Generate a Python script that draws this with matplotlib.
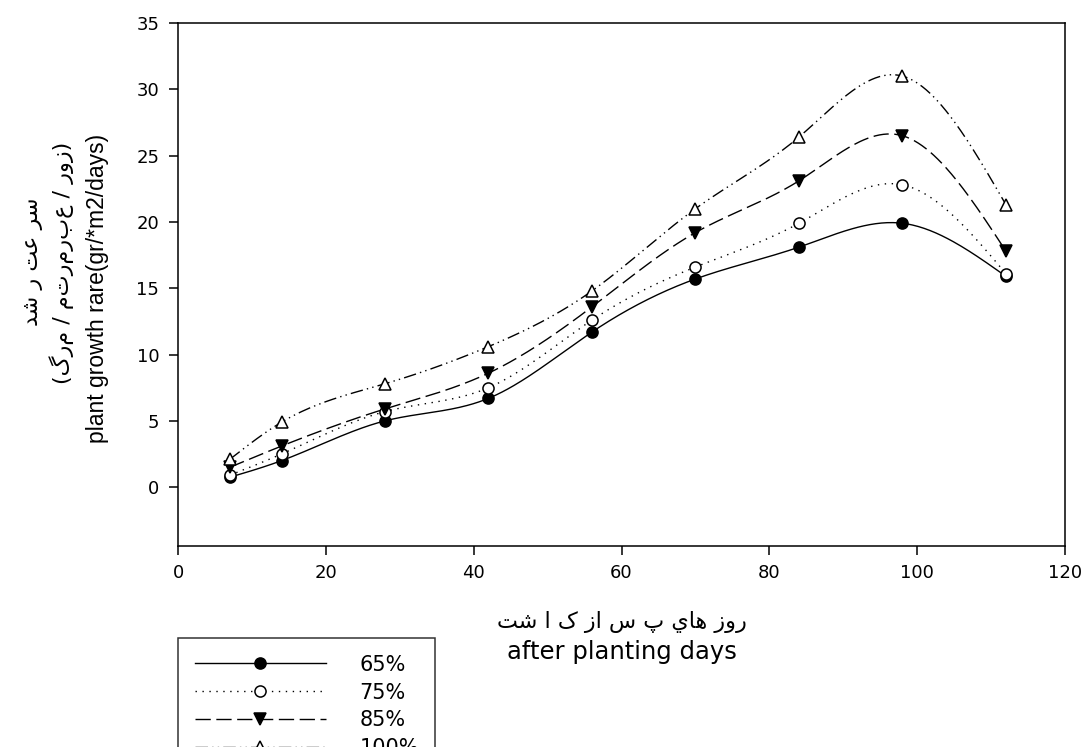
import numpy as np, matplotlib
matplotlib.use("Agg")
import matplotlib.pyplot as plt
from matplotlib.lines import Line2D

plt.rcParams["font.family"] = ["DejaVu Sans"]

days = [7, 14, 28, 42, 56, 70, 84, 98, 112]
g65 = [0.75, 2.0, 5.0, 6.7, 11.7, 15.7, 18.1, 19.9, 15.9]
g75 = [0.9, 2.5, 5.7, 7.5, 12.6, 16.6, 19.9, 22.8, 16.1]
g85 = [1.5, 3.1, 5.9, 8.6, 13.6, 19.2, 23.1, 26.5, 17.8]
g100 = [2.1, 4.9, 7.8, 10.6, 14.8, 21.0, 26.4, 31.0, 21.3]
labels = ["65%", "75%", "85%", "100%"]

def spline(x, y, n=400):
    # natural cubic spline through the measured points (for the connecting curve only)
    x = np.asarray(x, float); y = np.asarray(y, float)
    h = np.diff(x); m = len(x)
    A = np.zeros((m, m)); r = np.zeros(m)
    A[0, 0] = A[-1, -1] = 1
    for i in range(1, m - 1):
        A[i, i-1], A[i, i], A[i, i+1] = h[i-1], 2*(h[i-1] + h[i]), h[i]
        r[i] = 6*((y[i+1] - y[i])/h[i] - (y[i] - y[i-1])/h[i-1])
    M = np.linalg.solve(A, r)
    xs = np.linspace(x[0], x[-1], n)
    k = np.clip(np.searchsorted(x, xs) - 1, 0, m - 2)
    t0, t1, hk = x[k+1] - xs, xs - x[k], h[k]
    ys = (M[k]*t0**3 + M[k+1]*t1**3)/(6*hk) + (y[k]/hk - M[k]*hk/6)*t0 + (y[k+1]/hk - M[k+1]*hk/6)*t1
    return xs, ys

styles = [
    dict(ls="-", marker="o", mfc="black", ms=8),
    dict(ls=(0, (1, 4)), marker="o", mfc="white", ms=8),
    dict(ls=(0, (11, 4)), marker="v", mfc="black", ms=9),
    dict(ls=(0, (9, 3, 1, 3, 1, 3)), marker="^", mfc="white", ms=9),
]

fig = plt.figure(figsize=(10.87, 7.47), dpi=100)
ax = fig.add_axes([0.1638, 0.2697, 0.9798 - 0.1638, 0.9692 - 0.2697])
handles = []
for vals, st, lab in zip([g65, g75, g85, g100], styles, labels):
    xs, ys = spline(days, vals)
    ax.plot(xs, ys, color="black", lw=1.0, ls=st["ls"], zorder=2)
    ax.plot(days, vals, ls="none", marker=st["marker"], ms=st["ms"], mfc=st["mfc"],
            mec="black", mew=1.1, zorder=3)
    handles.append(Line2D([], [], color="black", lw=1.0, ls=st["ls"], marker=st["marker"],
                          ms=st["ms"], mfc=st["mfc"], mec="black", mew=1.1, label=lab))

ax.set_xlim(0, 120); ax.set_ylim(-4.4, 35)
ax.set_xticks(range(0, 121, 20)); ax.set_yticks(range(0, 36, 5))
ax.tick_params(direction="out", length=6.5, width=1.1, labelsize=13, pad=7)
for s in ax.spines.values(): s.set_linewidth(1.1)

# axis titles (Persian + English)
cx = 0.5718
fig.text(cx, 1 - 622/747, "\uFE96\uFEB7 \u0627 \u06A9 \u0632\u0627 \u0633 \u067E \u064A\uFE8E\uFEEB \u0632\u0648\u0631",
         ha="center", va="center", fontsize=16)
fig.text(cx, 1 - 652/747, "after planting days", ha="center", va="center", fontsize=17.5)
fig.text(33/1087, 1 - 262/747, "\uFEAA\uFEB7 \u0631 \uFE96\uFECB \uFEAE\uFEB3",
         rotation=90, ha="center", va="center", fontsize=16)
fig.text(62/1087, 1 - 263/747, "(\u06AF\u0631\u0645 / \u0645\u062A\u0631\u0645\u0631\u0628\u0639 / \u0631\u0648\u0632)",
         rotation=90, ha="center", va="center", fontsize=16)
fig.text(98/1087, 1 - 288/747, "plant growth rare(gr/*m2/days)", rotation=90, ha="center", va="center",
         fontsize=16.5, family=["Liberation Sans", "DejaVu Sans"])

leg = fig.legend(handles=handles, loc="upper left", bbox_to_anchor=(178/1087, 1 - 638/747),
                 frameon=True, fancybox=False, fontsize=15, handlelength=6.3, handletextpad=1.6,
                 borderpad=0.8, labelspacing=0.38, borderaxespad=0)
leg.get_frame().set_edgecolor("black"); leg.get_frame().set_linewidth(1.1)

fig.savefig("out.png", dpi=100)
